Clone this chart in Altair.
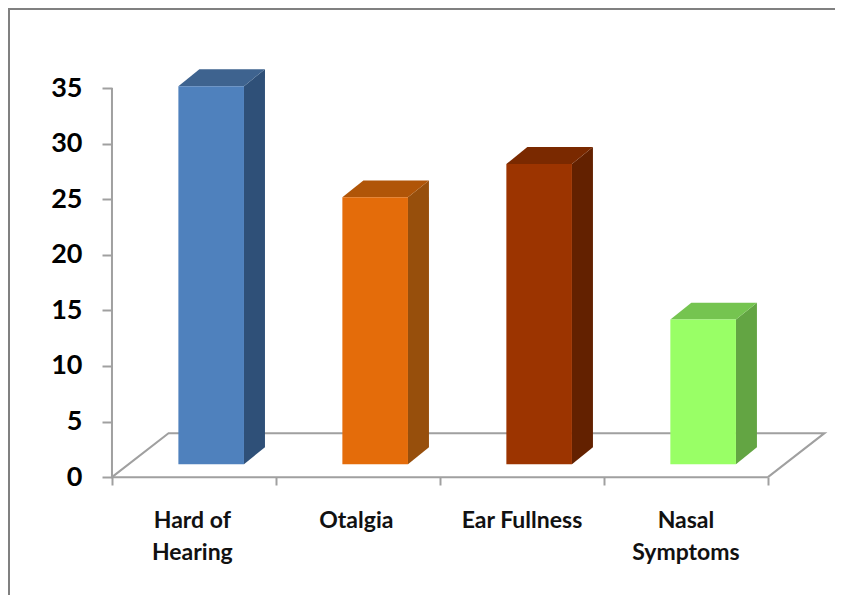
import altair as alt
import pandas as pd

# Chart values
categories = ["Hard of\nHearing", "Otalgia", "Ear Fullness", "Nasal\nSymptoms"]
label_x = [0.49, 1.49, 2.5, 3.5]
values = [34, 24, 27, 13]
front_colors = ["#4f81bd", "#e46c0a", "#9c3400", "#99ff66"]
top_colors = ["#3e638f", "#b05508", "#7a2900", "#75c450"]
side_colors = ["#2f5078", "#974f0c", "#632100", "#63a543"]
y_ticks = [0, 5, 10, 15, 20, 25, 30, 35]
x_ticks = [0, 1, 2, 3, 4]

# Faux-3D depth, in data units
BASE = 1.17
DX, DY = 0.128, 1.52
BAR_LEFT, BAR_W = 0.405, 0.40
FLOOR_DX, FLOOR_DY = 0.345, 3.96

X_DOM = [-0.634, 4.409]
Y_DOM = [-10.6, 42.2]
W, H = 827, 587
font = "Lato"
grey = "#a0a0a0"

xs = alt.Scale(domain=X_DOM, nice=False, zero=False)
ys = alt.Scale(domain=Y_DOM, nice=False, zero=False)
X = alt.X("x:Q", scale=xs, title=None)
Y = alt.Y("y:Q", scale=ys, title=None)

front, faces = [], []
for i, v in enumerate(values):
    x0 = i + BAR_LEFT
    x1 = x0 + BAR_W
    t = v + BASE
    front.append(dict(x=x0, x2=x1, y=BASE, y2=t, fill=front_colors[i]))
    for px, py, py2 in [(x1, BASE, t), (x1 + DX, BASE + DY, t + DY)]:
        faces.append(dict(x=px, y=py, y2=py2, fill=side_colors[i]))
    for px, py, py2 in [(x0, t, t), (x0 + DX, t, t + DY), (x1, t, t + DY), (x1 + DX, t + DY, t + DY)]:
        faces.append(dict(x=px, y=py, y2=py2, fill=top_colors[i]))

floor = pd.DataFrame([
    dict(x=0, y=0, o=0), dict(x=FLOOR_DX, y=FLOOR_DY, o=1),
    dict(x=4 + FLOOR_DX, y=FLOOR_DY, o=2), dict(x=4, y=0, o=3),
])
floor_layer = alt.Chart(floor).mark_line(color=grey, strokeWidth=2).encode(X, Y, order="o:Q")

frame = alt.Chart(pd.DataFrame([dict(x=X_DOM[0], y=Y_DOM[0], o=0), dict(x=X_DOM[0], y=Y_DOM[1], o=1), dict(x=X_DOM[1], y=Y_DOM[1], o=2)])).mark_line(
    color="#808080", strokeWidth=4).encode(X, Y, order="o:Q")

axes_df = pd.DataFrame([dict(x=0, y=35, o=0), dict(x=0, y=0, o=1), dict(x=4, y=0, o=2)])
axes_layer = alt.Chart(axes_df).mark_line(color=grey, strokeWidth=2).encode(
    alt.X("x:Q", scale=xs, title=None, axis=alt.Axis(
        values=x_ticks, orient="bottom", offset=-(H - 469), labels=False, domain=False, grid=False,
        title=None, tickColor=grey, tickWidth=2, tickSize=8)),
    alt.Y("y:Q", scale=ys, title=None, axis=alt.Axis(
        values=y_ticks, orient="left", offset=-104, domain=False, grid=False, title=None,
        tickColor=grey, tickWidth=2, tickSize=10, labelPadding=20, labelFont=font, labelFontSize=27,
        labelFontWeight="bold", labelColor="#000000")),
    order="o:Q",
)

side_top = alt.Chart(pd.DataFrame(faces)).mark_area(interpolate="linear", opacity=1).encode(
    X, alt.Y("y:Q", scale=ys, title=None, stack=None), alt.Y2("y2:Q"),
    color=alt.Color("fill:N", scale=None),
)
front_layer = alt.Chart(pd.DataFrame(front)).mark_rect().encode(
    X, alt.X2("x2:Q"), Y, alt.Y2("y2:Q"), color=alt.Color("fill:N", scale=None),
)

labels = pd.DataFrame(dict(x=label_x, y=[-2.95] * 4, t=categories))
text_layer = alt.Chart(labels).mark_text(
    font=font, fontSize=23, fontWeight="bold", color="#111111", baseline="top", align="center",
    lineBreak="\n", lineHeight=32,
).encode(X, Y, text="t:N")

chart = alt.layer(axes_layer, frame, floor_layer, side_top, front_layer, text_layer).resolve_scale(
    color="independent"
).properties(
    width=W, height=H, padding=0, autosize=alt.AutoSizeParams(type="none"), background="white",
).configure_view(stroke=None)

chart.save("out.html", embed_options={"renderer": "svg", "actions": False})
